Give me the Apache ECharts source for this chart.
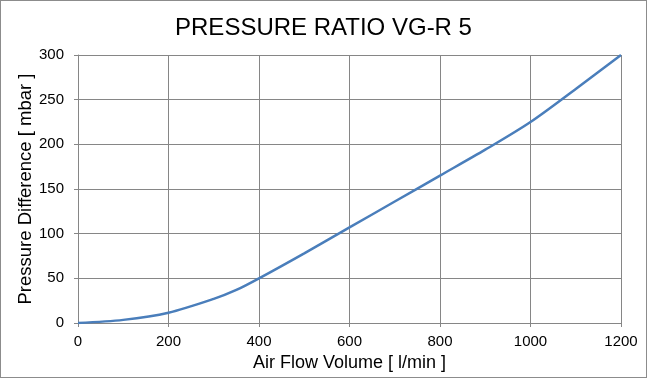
<!DOCTYPE html>
<html><head><meta charset="utf-8">
<script src="https://cdn.jsdelivr.net/npm/echarts@6/dist/echarts.min.js"></script>
<style>
html,body{margin:0;padding:0;background:#fff;}
#c{width:645px;height:376px;border:1px solid #8c8c8c;}
</style></head>
<body><div id="c"></div>
<script>
const flow = [0, 100, 200, 300, 350, 400, 500, 600, 700, 800, 900, 1000, 1100, 1200];
const pressure = [0, 3.5, 11.5, 27, 37, 50, 78, 107, 136, 165, 194, 225, 262, 300];
const titleText = 'PRESSURE RATIO VG-R 5';
const xName = 'Air Flow Volume [ l/min ]';
const yName = 'Pressure Difference [ mbar ]';

const chart = echarts.init(document.getElementById('c'));
const font = 'Liberation Sans, Arial, sans-serif';
chart.setOption({
  animation: false,
  title: {text: titleText, left: 'center', top: 10,
    textStyle: {fontFamily: font, fontSize: 24, fontWeight: 'normal', color: '#000'}},
  grid: {left: 77, right: 25, top: 54, bottom: 53},
  xAxis: {type: 'value', min: 0, max: 1200, interval: 200,
    name: xName, nameLocation: 'middle', nameGap: 31, nameMoveOverlap: false,
    nameTextStyle: {fontFamily: font, fontSize: 18, color: '#000'},
    axisLine: {lineStyle: {color: '#868686'}},
    axisTick: {show: true, length: 4, lineStyle: {color: '#868686'}},
    axisLabel: {fontFamily: font, fontSize: 15, color: '#000', margin: 11,
      formatter: v => String(v)},
    splitLine: {show: true, lineStyle: {color: '#868686', width: 1}}},
  yAxis: {type: 'value', min: 0, max: 300, interval: 50,
    name: yName, nameLocation: 'middle', nameGap: 43, nameMoveOverlap: false,
    nameTextStyle: {fontFamily: font, fontSize: 18.5, color: '#000'},
    axisLine: {show: true, lineStyle: {color: '#868686'}},
    axisTick: {show: true, length: 4, lineStyle: {color: '#868686'}},
    axisLabel: {fontFamily: font, fontSize: 15, color: '#000', margin: 14},
    splitLine: {show: true, lineStyle: {color: '#868686', width: 1}}},
  series: [{type: 'line', data: flow.map((x, i) => [x, pressure[i]]),
    smooth: 0.3, showSymbol: false,
    lineStyle: {color: '#4a7ebb', width: 2.5}}]
});
</script></body></html>
